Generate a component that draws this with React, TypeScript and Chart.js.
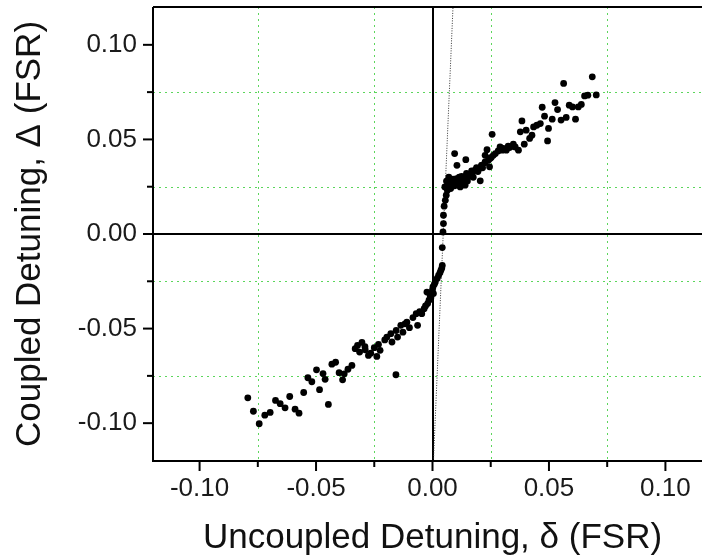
import { useEffect, useRef } from "react";
import { Chart, registerables } from "chart.js";
Chart.register(...registerables);

// Measured points (uncoupled detuning δ, coupled detuning Δ), in FSR
const xValues = [
  -0.0793, -0.0769, -0.0744, -0.072, -0.0697, -0.0674, -0.0654, -0.0633, -0.0613, -0.059,
  -0.0573, -0.0553, -0.0535, -0.0518, -0.0498, -0.0485, -0.047, -0.0461, -0.0447, -0.0432,
  -0.0416, -0.0401, -0.0386, -0.0379, -0.0363, -0.0346, -0.0332, -0.0322, -0.0313, -0.0303,
  -0.0289, -0.029, -0.0275, -0.0265, -0.025, -0.0239, -0.0232, -0.0225, -0.0205, -0.0196,
  -0.0179, -0.0174, -0.0157, -0.0156, -0.015, -0.0136, -0.0127, -0.0118, -0.011, -0.0099,
  -0.0084, -0.007, -0.0064, -0.0055, -0.0046, -0.0036, -0.003, -0.0021, -0.0015, -0.0007,
  0.0004, -0.0024, -0.001, 0.0, 0.0002, 0.0008, 0.0012, 0.002, 0.0026, 0.0032,
  0.0036, 0.004, 0.0042, 0.0042, 0.0045, 0.0047, 0.0047, 0.005, 0.0055, 0.0059,
  0.0064, 0.0073, 0.0083, 0.009, 0.0053, 0.0067, 0.0082, 0.0103, 0.0125, 0.0146,
  0.0168, 0.0189, 0.021, 0.0225, 0.0247, 0.0261, 0.0282, 0.0304, 0.0325, 0.0347,
  0.0119, 0.0126, 0.014, 0.0155, 0.0169, 0.0183, 0.0212, 0.0226, 0.0105, 0.006,
  0.007, 0.0078, 0.0088, 0.0095, 0.011, 0.0115, 0.013, 0.0135, 0.015, 0.016,
  0.0175, 0.0195, 0.02, 0.0215, 0.024, 0.0252, 0.027, 0.029, 0.03, 0.0317,
  0.0331, 0.0345, 0.0355, 0.0369, 0.0095, 0.0105, 0.0143, 0.0205, 0.0234, 0.0256,
  0.0245, 0.0226, 0.0377, 0.0384, 0.0394, 0.0402, 0.0417, 0.0427, 0.0434, 0.0448,
  0.0463, 0.0471, 0.0481, 0.0494, 0.0498, 0.0514, 0.0526, 0.0537, 0.0552, 0.0563,
  0.0574, 0.0587, 0.0601, 0.0614, 0.0626, 0.0639, 0.0653, 0.0667, 0.0686, 0.0703,
];
const yValues = [
  -0.0866, -0.0937, -0.1003, -0.0958, -0.0943, -0.088, -0.0897, -0.0919, -0.0859, -0.0926,
  -0.0947, -0.0838, -0.076, -0.0781, -0.0718, -0.0823, -0.0738, -0.0768, -0.0901, -0.0688,
  -0.0678, -0.0733, -0.0771, -0.0739, -0.0715, -0.0695, -0.0606, -0.0589, -0.0624, -0.0573,
  -0.0612, -0.0596, -0.0642, -0.063, -0.0601, -0.0647, -0.0584, -0.0615, -0.056, -0.0545,
  -0.0527, -0.0571, -0.0744, -0.051, -0.0545, -0.0483, -0.0519, -0.0475, -0.0466, -0.0495,
  -0.0442, -0.0421, -0.0483, -0.041, -0.0421, -0.0395, -0.038, -0.0368, -0.035, -0.0337,
  -0.0315, -0.0307, -0.0325, -0.0295, -0.028, -0.0265, -0.0254, -0.0235, -0.0219, -0.0205,
  -0.0192, -0.018, -0.0166, -0.0072, 0.0011, 0.0055, 0.0099, 0.0147, 0.0178, 0.0205,
  0.0231, 0.0249, 0.0263, 0.0275, 0.0249, 0.0267, 0.0275, 0.0293, 0.0305, 0.032,
  0.0333, 0.0351, 0.0363, 0.0376, 0.0399, 0.0416, 0.0439, 0.0452, 0.0464, 0.0475,
  0.0249, 0.0284, 0.0258, 0.0302, 0.032, 0.0337, 0.0363, 0.0381, 0.0263, 0.028,
  0.03, 0.024, 0.029, 0.0255, 0.028, 0.03, 0.027, 0.029, 0.028, 0.031,
  0.03, 0.033, 0.0345, 0.035, 0.039, 0.0405, 0.0425, 0.046, 0.0443, 0.0443,
  0.0457, 0.0464, 0.046, 0.0443, 0.0425, 0.0363, 0.0393, 0.0281, 0.0446, 0.0527,
  0.0355, 0.0416, 0.054, 0.0598, 0.0475, 0.0549, 0.0505, 0.0522, 0.0566, 0.0575,
  0.0584, 0.067, 0.0623, 0.0492, 0.0558, 0.0607, 0.0695, 0.0658, 0.0602, 0.0796,
  0.0616, 0.0681, 0.0672, 0.0607, 0.0672, 0.0685, 0.073, 0.0734, 0.0831, 0.0735,
];

// Dotted reference line (steep, near the origin)
const refLineX = [0.0004, 0.0088];
const refLineY = [-0.12, 0.12];

const majorTicks = [-0.1, -0.05, 0, 0.05, 0.1];
const minorTicks = [-0.075, -0.025, 0.025, 0.075];
const axisMin = -0.12;
const axisMax = 0.12;

const xTitle = "Uncoupled Detuning, \u03b4 (FSR)";
const yTitle = "Coupled Detuning, \u0394 (FSR)";

const FONT = "'Liberation Sans', Arial, Helvetica, sans-serif";
const CANVAS_W = 730;
const CANVAS_H = 559;

const framePlugin = {
  id: "frame",
  beforeDatasetsDraw(chart: any) {
    const { ctx, chartArea: a, scales } = chart;
    const x = scales.x;
    const y = scales.y;
    ctx.save();
    ctx.strokeStyle = "#5cd65c";
    ctx.lineWidth = 1;
    ctx.setLineDash([2, 4]);
    minorTicks.forEach((v) => {
      const px = Math.round(x.getPixelForValue(v)) + 0.5;
      ctx.beginPath();
      ctx.moveTo(px, a.top);
      ctx.lineTo(px, a.bottom);
      ctx.stroke();
      const py = Math.round(y.getPixelForValue(v)) + 0.5;
      ctx.beginPath();
      ctx.moveTo(a.left, py);
      ctx.lineTo(a.right, py);
      ctx.stroke();
    });
    ctx.setLineDash([]);
    ctx.strokeStyle = "#000";
    ctx.lineWidth = 2;
    const x0 = Math.round(x.getPixelForValue(0));
    const y0 = Math.round(y.getPixelForValue(0));
    ctx.beginPath();
    ctx.moveTo(x0, a.top);
    ctx.lineTo(x0, a.bottom);
    ctx.stroke();
    ctx.beginPath();
    ctx.moveTo(a.left, y0);
    ctx.lineTo(a.right, y0);
    ctx.stroke();
    ctx.restore();
  },
  afterDraw(chart: any) {
    const { ctx, chartArea: a, scales } = chart;
    const x = scales.x;
    const y = scales.y;
    ctx.save();
    ctx.strokeStyle = "#000";
    ctx.lineWidth = 2;
    ctx.beginPath();
    ctx.moveTo(a.left, a.top);
    ctx.lineTo(a.left, a.bottom);
    ctx.lineTo(a.right, a.bottom);
    ctx.moveTo(a.left, a.top);
    ctx.lineTo(a.right, a.top);
    ctx.stroke();
    const drawTick = (v: number, len: number) => {
      const px = x.getPixelForValue(v);
      ctx.beginPath();
      ctx.moveTo(px, a.bottom);
      ctx.lineTo(px, a.bottom + len);
      ctx.stroke();
      const py = y.getPixelForValue(v);
      ctx.beginPath();
      ctx.moveTo(a.left, py);
      ctx.lineTo(a.left - len, py);
      ctx.stroke();
    };
    majorTicks.forEach((v) => drawTick(v, 10));
    minorTicks.forEach((v) => drawTick(v, 6));
    ctx.restore();
  },
};

export default function App() {
  const canvasRef = useRef<HTMLCanvasElement | null>(null);

  useEffect(() => {
    const canvas = canvasRef.current;
    if (!canvas) return;
    const points = xValues.map((v, i) => ({ x: v, y: yValues[i] }));
    const refPoints = refLineX.map((v, i) => ({ x: v, y: refLineY[i] }));
    const fmt = (v: any) => Number(v).toFixed(2);

    const chart = new Chart(canvas, {
      type: "scatter",
      data: {
        datasets: [
          {
            data: refPoints,
            showLine: true,
            borderColor: "#333",
            borderWidth: 1,
            borderDash: [1, 1.5],
            pointRadius: 0,
            fill: false,
            order: 2,
          } as any,
          {
            data: points,
            backgroundColor: "#000",
            borderColor: "#000",
            borderWidth: 0,
            pointRadius: 3.4,
            order: 1,
          },
        ],
      },
      options: {
        animation: false,
        responsive: false,
        devicePixelRatio: 1,
        layout: { padding: { top: 7, right: CANVAS_W - 712, bottom: 0, left: 0 } },
        plugins: { legend: { display: false }, tooltip: { enabled: false } },
        scales: {
          x: {
            type: "linear",
            min: axisMin,
            max: axisMax,
            grid: { display: false, drawTicks: false },
            border: { display: false },
            afterBuildTicks: (scale: any) => {
              scale.ticks = majorTicks.map((v) => ({ value: v }));
            },
            afterFit: (scale: any) => {
              scale.height = 98;
              scale.paddingLeft = 0;
              scale.paddingRight = 0;
            },
            ticks: {
              padding: 12,
              color: "#1a1a1a",
              font: { family: FONT, size: 26 },
              callback: fmt,
              maxRotation: 0,
              autoSkip: false,
            },
            title: {
              display: true,
              text: xTitle,
              color: "#111",
              font: { family: FONT, size: 35 },
              padding: { top: 0, bottom: 0 },
            },
          },
          y: {
            type: "linear",
            min: axisMin,
            max: axisMax,
            grid: { display: false, drawTicks: false },
            border: { display: false },
            afterBuildTicks: (scale: any) => {
              scale.ticks = majorTicks.map((v) => ({ value: v }));
            },
            afterFit: (scale: any) => {
              scale.width = 153;
              scale.paddingTop = 0;
              scale.paddingBottom = 0;
            },
            ticks: {
              padding: 16,
              color: "#1a1a1a",
              font: { family: FONT, size: 26 },
              callback: fmt,
              autoSkip: false,
            },
            title: {
              display: true,
              text: yTitle,
              color: "#111",
              font: { family: FONT, size: 35 },
              padding: { top: 9, bottom: 0 },
            },
          },
        },
      } as any,
      plugins: [framePlugin],
    });
    return () => chart.destroy();
  }, []);

  return (
    <div
      style={{
        position: "fixed",
        top: 0,
        left: 0,
        width: 702,
        height: 559,
        overflow: "hidden",
        background: "#fff",
      }}
    >
      <canvas ref={canvasRef} width={CANVAS_W} height={CANVAS_H} style={{ display: "block" }} />
    </div>
  );
}
